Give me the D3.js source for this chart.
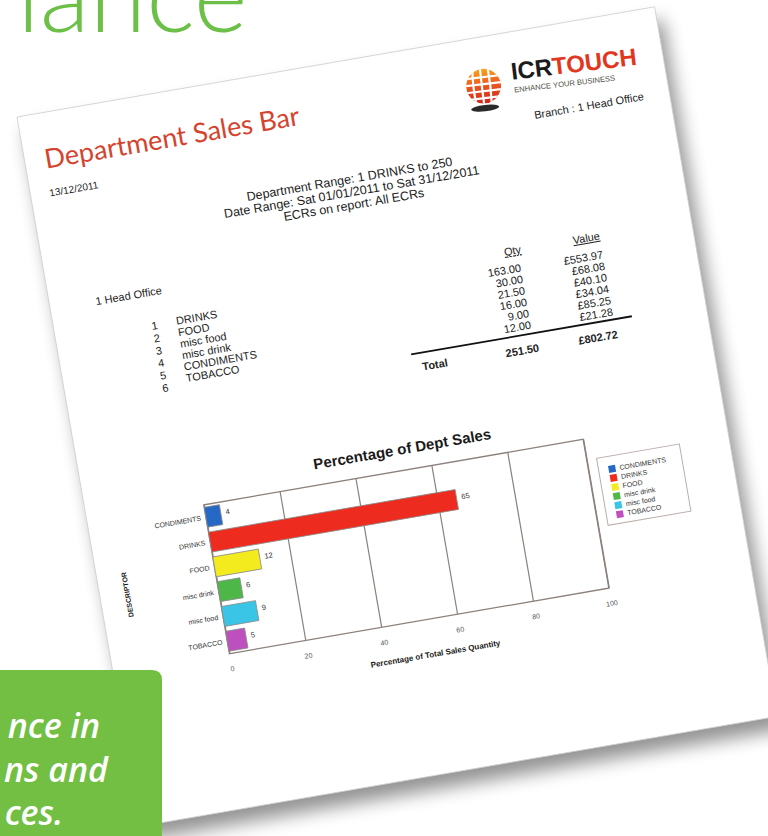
<!DOCTYPE html>
<html>
<head>
<meta charset="utf-8">
<script src="https://cdn.jsdelivr.net/npm/d3@7/dist/d3.min.js"></script>
<style>
body { margin: 0; background: #fff; }
svg { display: block; }
text { font-family: "Liberation Sans", Arial, sans-serif; }
</style>
</head>
<body>
<svg id="gfx" width="768" height="836"></svg>
<script>
// chart data
var categories = ["CONDIMENTS", "DRINKS", "FOOD", "misc drink", "misc food", "TOBACCO"];
var percentValues = [4, 65, 12, 6, 9, 5];
var barColors = ["#2568c6", "#ee2b1f", "#f3eb1d", "#4db848", "#3ac5e6", "#bd50be"];
var xTicks = [0, 20, 40, 60, 80, 100];

// report table
var deptNumbers = ["1", "2", "3", "4", "5", "6"];
var deptNames = ["DRINKS", "FOOD", "misc food", "misc drink", "CONDIMENTS", "TOBACCO"];
var qtyValues = ["163.00", "30.00", "21.50", "16.00", "9.00", "12.00"];
var valueValues = ["£553.97", "£68.08", "£40.10", "£34.04", "£85.25", "£21.28"];
var totals = ["251.50", "£802.72"];
var headerLines = ["Department Range: 1 DRINKS to 250", "Date Range: Sat 01/01/2011 to Sat 31/12/2011", "ECRs on report: All ECRs"];
var blurbLines = ["nce in", "ns and", "ces."];

var gameState = {};

function initialise() {
    gameState = {
        gfx: {
            pageW: 647,
            pageH: 720,
            plotW: 385,
            plotH: 151
        }
    };
    var gfx = gameState.gfx;
    gfx.svg = d3.select("#gfx");
    makeDefs();
    drawBackdrop();

    // the sheet of paper, photographed at an angle
    gfx.page = gfx.svg.append("g").attr("transform", "translate(17,117) rotate(-9.8)");
    gfx.page.append("rect")
        .attr("x", 6).attr("y", 14)
        .attr("width", gfx.pageW).attr("height", gfx.pageH)
        .attr("fill", "#000").attr("opacity", 0.42)
        .attr("filter", "url(#blur)");
    gfx.page.append("rect")
        .attr("width", gfx.pageW).attr("height", gfx.pageH)
        .attr("fill", "#fff").attr("stroke", "#cfcfcf").attr("stroke-width", 0.8);

    drawHeader();
    drawLogo();
    drawTable();
    drawChart();
    drawBlurb();
}

function makeDefs() {
    var defs = gameState.gfx.svg.append("defs");
    defs.append("filter").attr("id", "blur")
        .attr("x", -0.2).attr("y", -0.2).attr("width", 1.4).attr("height", 1.4)
        .append("feGaussianBlur").attr("stdDeviation", 9);

    var grad = defs.append("linearGradient").attr("id", "globe")
        .attr("x1", 0).attr("y1", 0).attr("x2", 0).attr("y2", 1);
    grad.append("stop").attr("offset", "0%").attr("stop-color", "#f8a51d");
    grad.append("stop").attr("offset", "45%").attr("stop-color", "#ec5a1f");
    grad.append("stop").attr("offset", "100%").attr("stop-color", "#d3231d");

    defs.append("clipPath").attr("id", "globeClip")
        .append("circle").attr("r", 17.5);
}

function drawBackdrop() {
    var svg = gameState.gfx.svg;
    svg.append("text")
        .attr("x", 17).attr("y", 32)
        .style("font-family", "Lato, 'Open Sans', sans-serif")
        .style("font-weight", 300)
        .style("font-size", "103px")
        .attr("fill", "#6cbf47")
        .text("lance");
}

function drawHeader() {
    var page = gameState.gfx.page;

    page.append("text")
        .attr("x", 20).attr("y", 56)
        .style("font-family", "Lato, 'Open Sans', sans-serif")
        .style("font-size", "27px")
        .attr("fill", "#d5432e")
        .text("Department Sales Bar");

    page.append("text")
        .attr("x", 19).attr("y", 84)
        .style("font-size", "10px").attr("fill", "#222")
        .text("13/12/2011");

    var lineY = d3.scaleLinear().domain([0, headerLines.length - 1]).range([122, 148]);
    page.selectAll("text.hdr")
        .data(headerLines)
        .enter().append("text").attr("class", "hdr")
        .attr("x", 317).attr("y", (d, i) => lineY(i))
        .attr("text-anchor", "middle")
        .style("font-size", "12.5px").attr("fill", "#222")
        .text(d => d);

    page.append("text")
        .attr("x", 510).attr("y", 90)
        .style("font-size", "11px").attr("fill", "#222")
        .text("Branch : 1 Head Office");
}

function drawLogo() {
    var logo = gameState.gfx.page.append("g").attr("transform", "translate(465,49) rotate(3)");

    logo.append("ellipse")
        .attr("cx", -1).attr("cy", 22).attr("rx", 14).attr("ry", 3.2)
        .attr("fill", "#2a2a2a");

    var globe = logo.append("g").attr("clip-path", "url(#globeClip)");
    globe.append("circle").attr("r", 17.5).attr("fill", "url(#globe)");
    [-9, -2, 5, 12].forEach(function(yy) {
        globe.append("line").attr("x1", -20).attr("x2", 20).attr("y1", yy).attr("y2", yy)
            .attr("stroke", "#fff").attr("stroke-width", 2.2);
    });
    [-9, -1.5, 6].forEach(function(xx) {
        globe.append("path")
            .attr("d", "M" + xx + ",-20 Q" + (xx * 1.25) + ",0 " + xx + ",20")
            .attr("fill", "none").attr("stroke", "#fff").attr("stroke-width", 2.2);
    });

    var word = logo.append("text")
        .attr("x", 29).attr("y", -3)
        .style("font-size", "24px").style("font-weight", "bold");
    word.append("tspan").attr("fill", "#1b1b1b").text("ICR");
    word.append("tspan").attr("fill", "#e2371f").text("TOUCH");

    logo.append("text")
        .attr("x", 30).attr("y", 10)
        .style("font-size", "7.6px").attr("fill", "#4d4d45")
        .text("ENHANCE YOUR BUSINESS");
}

function drawTable() {
    var page = gameState.gfx.page;

    page.append("text")
        .attr("x", 46).attr("y", 199)
        .style("font-size", "11px").attr("fill", "#222")
        .text("1 Head Office");

    var numY = d3.scaleLinear().domain([0, 5]).range([233, 296]);
    var nameY = d3.scaleLinear().domain([0, 5]).range([232, 290]);
    var rowY = d3.scaleLinear().domain([0, 5]).range([238, 296]);

    page.selectAll("text.num")
        .data(deptNumbers)
        .enter().append("text").attr("class", "num")
        .attr("x", 97).attr("y", (d, i) => numY(i))
        .style("font-size", "11px").attr("fill", "#222")
        .text(d => d);

    page.selectAll("text.name")
        .data(deptNames)
        .enter().append("text").attr("class", "name")
        .attr("x", 122).attr("y", (d, i) => nameY(i))
        .style("font-size", "11px").attr("fill", "#222")
        .text(d => d);

    page.append("text")
        .attr("x", 474).attr("y", 220).attr("text-anchor", "end")
        .style("font-size", "11px").style("text-decoration", "underline").attr("fill", "#222")
        .text("Qty");
    page.append("text")
        .attr("x", 554).attr("y", 220).attr("text-anchor", "end")
        .style("font-size", "11px").style("text-decoration", "underline").attr("fill", "#222")
        .text("Value");

    page.selectAll("text.qty")
        .data(qtyValues)
        .enter().append("text").attr("class", "qty")
        .attr("x", 471).attr("y", (d, i) => rowY(i))
        .attr("text-anchor", "end")
        .style("font-size", "11px").attr("fill", "#222")
        .text(d => d);

    page.selectAll("text.val")
        .data(valueValues)
        .enter().append("text").attr("class", "val")
        .attr("x", 554).attr("y", (d, i) => rowY(i) + 1)
        .attr("text-anchor", "end")
        .style("font-size", "11px").attr("fill", "#222")
        .text(d => d);

    page.append("line")
        .attr("x1", 348).attr("x2", 572).attr("y1", 301).attr("y2", 301)
        .attr("stroke", "#111").attr("stroke-width", 1.8);

    page.append("text")
        .attr("x", 357).attr("y", 319)
        .style("font-size", "11px").style("font-weight", "bold").attr("fill", "#222")
        .text("Total");

    page.selectAll("text.tot")
        .data(totals)
        .enter().append("text").attr("class", "tot")
        .attr("x", (d, i) => i ? 555 : 475).attr("y", 320)
        .attr("text-anchor", "end")
        .style("font-size", "11px").style("font-weight", "bold").attr("fill", "#222")
        .text(d => d);
}

function drawChart() {
    var gfx = gameState.gfx;
    var W = gfx.plotW, H = gfx.plotH;
    var rows = categories.map((c, i) => ({ name: c, value: percentValues[i], color: barColors[i] }));

    var chart = gfx.page.append("g").attr("transform", "translate(118,414)");

    var x = d3.scaleLinear().domain([0, 100]).range([0, W]);
    var y = d3.scaleBand().domain(categories).range([0, H]).paddingInner(0.2).paddingOuter(0.1);

    chart.append("text")
        .attr("x", 205).attr("y", -16).attr("text-anchor", "middle")
        .style("font-size", "15px").style("font-weight", "bold").attr("fill", "#1a1a1a")
        .text("Percentage of Dept Sales");

    var grid = chart.append("g")
        .attr("transform", "translate(0," + H + ")")
        .call(d3.axisBottom(x).tickValues(xTicks).tickSize(-H).tickSizeOuter(0).tickPadding(13));
    grid.select(".domain").remove();
    grid.selectAll(".tick line").attr("stroke", "#8c807b").attr("stroke-width", 1.2);
    grid.selectAll(".tick text")
        .style("font-family", "'Liberation Sans', Arial, sans-serif")
        .style("font-size", "7px").attr("fill", "#555");

    chart.append("rect")
        .attr("width", W).attr("height", H)
        .attr("fill", "none").attr("stroke", "#8c807b").attr("stroke-width", 1.3);

    chart.selectAll("rect.bar")
        .data(rows)
        .enter().append("rect").attr("class", "bar")
        .attr("x", 0).attr("y", d => y(d.name))
        .attr("width", d => x(d.value)).attr("height", y.bandwidth())
        .attr("fill", d => d.color)
        .attr("stroke", "#8a8a8a").attr("stroke-width", 0.8);

    chart.selectAll("text.vlab")
        .data(rows)
        .enter().append("text").attr("class", "vlab")
        .attr("x", d => x(d.value) + 5)
        .attr("y", d => y(d.name) + y.bandwidth() * 0.4)
        .attr("dy", "0.35em")
        .style("font-size", "7.5px").attr("fill", "#333")
        .text(d => d.value);

    chart.selectAll("text.cat")
        .data(rows)
        .enter().append("text").attr("class", "cat")
        .attr("x", -5).attr("y", d => y(d.name) + y.bandwidth() / 2)
        .attr("dy", "0.35em").attr("text-anchor", "end")
        .style("font-size", "7px").attr("fill", "#333")
        .text(d => d.name);

    chart.append("text")
        .attr("x", 203).attr("y", 189).attr("text-anchor", "middle")
        .style("font-size", "8px").style("font-weight", "bold").attr("fill", "#1a1a1a")
        .text("Percentage of Total Sales Quantity");

    chart.append("text")
        .attr("transform", "translate(-88," + (H / 2) + ") rotate(-90)")
        .attr("text-anchor", "middle")
        .style("font-size", "7px").style("font-weight", "bold").attr("fill", "#1a1a1a")
        .text("DESCRIPTOR");

    // legend
    var legend = chart.append("g").attr("transform", "translate(395,21)");
    legend.append("rect")
        .attr("width", 84).attr("height", 68)
        .attr("fill", "#fff").attr("stroke", "#b9aeaa").attr("stroke-width", 1);
    var ly = d3.scaleLinear().domain([0, rows.length - 1]).range([13, 59]);
    var item = legend.selectAll("g.item")
        .data(rows)
        .enter().append("g").attr("class", "item")
        .attr("transform", (d, i) => "translate(0," + ly(i) + ")");
    item.append("rect")
        .attr("x", 10).attr("y", -3.5).attr("width", 7).attr("height", 7)
        .attr("fill", d => d.color);
    item.append("text")
        .attr("x", 21).attr("dy", "0.35em")
        .style("font-size", "7px").attr("fill", "#333")
        .text(d => d.name);
}

function drawBlurb() {
    var svg = gameState.gfx.svg;
    svg.append("path")
        .attr("d", "M-10,670 H152 Q162,670 162,680 V846 H-10 Z")
        .attr("fill", "#72bf44");
    var ends = [100, 108, 63];
    var baseY = d3.scaleLinear().domain([0, 2]).range([738, 825]);
    svg.selectAll("text.blurb")
        .data(blurbLines)
        .enter().append("text").attr("class", "blurb")
        .attr("x", (d, i) => ends[i]).attr("y", (d, i) => baseY(i))
        .attr("text-anchor", "end")
        .style("font-family", "'Open Sans', Lato, sans-serif")
        .style("font-style", "italic").style("font-weight", 600)
        .style("font-size", "34px").attr("fill", "#fff")
        .text(d => d);
}

initialise();
</script>
</body>
</html>
